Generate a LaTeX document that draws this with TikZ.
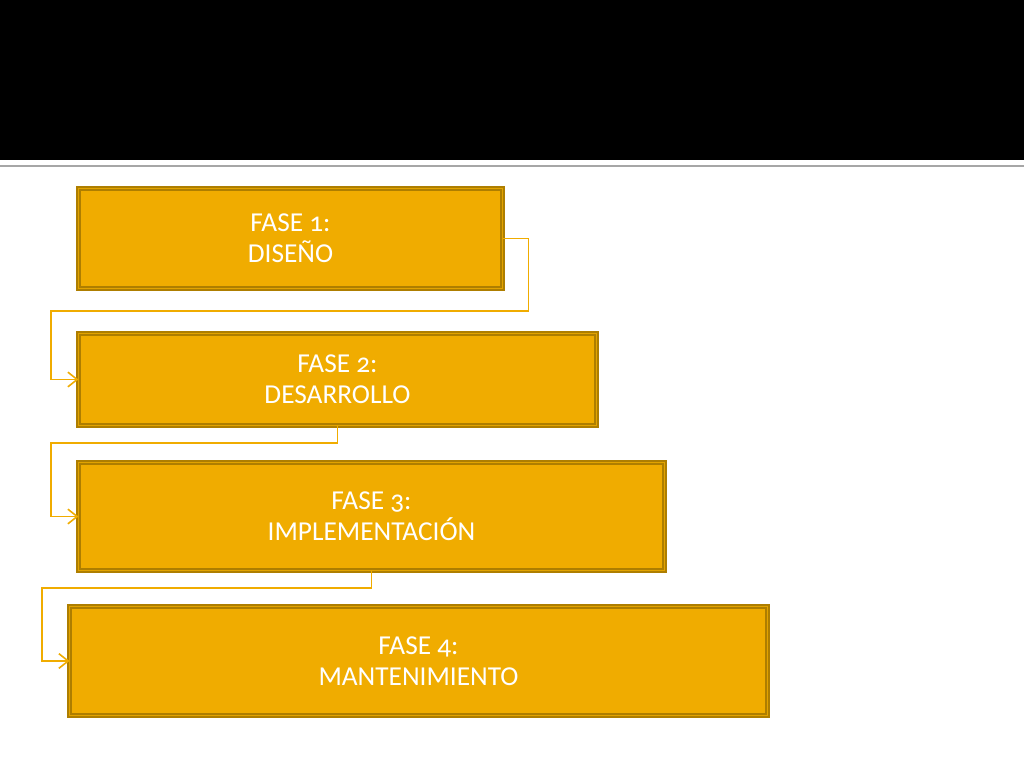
\documentclass[tikz,border=0pt]{standalone}
\usepackage{fontspec}
\setmainfont[Numbers=OldStyle]{Carlito}
\usetikzlibrary{arrows.meta}
\definecolor{fasefill}{HTML}{F0AC00}
\definecolor{faseline}{HTML}{AE7E00}
\definecolor{faselight}{HTML}{E2A300}

\begin{document}
\begin{tikzpicture}[x=0.75pt,y=-0.75pt,
  fase/.style={draw=faseline, fill=fasefill, line width=1.5pt, double=faselight, double distance=0.75pt,
    rectangle, inner sep=0pt, outer sep=0pt, text=white, align=center,
    font=\fontsize{20.5pt}{23.25pt}\selectfont},
  conn/.style={draw=fasefill, line width=1.2pt, -{Straight Barb[length=7pt,width=11pt]}}]
  \useasboundingbox (0,0) rectangle (1024,768);
  \fill[black] (0,0) rectangle (1024,160);
  \draw[black!35, line width=1.5pt] (0,165.5) -- (1024,165.5);

  \node (f1) [fase, minimum width=318pt, minimum height=75pt] at (290.5,238.5) {FASE 1:\\DISEÑO};
  \node (f2) [fase, minimum width=388.5pt, minimum height=69pt] at (337.5,379.5) {FASE 2:\\DESARROLLO};
  \node (f3) [fase, minimum width=439.5pt, minimum height=81pt] at (371.5,516.5) {FASE 3:\\IMPLEMENTACIÓN};
  \node (f4) [fase, minimum width=523.5pt, minimum height=81.75pt] at (418.5,661) {FASE 4:\\MANTENIMIENTO};

  \coordinate (k1) at (51,311);
  \coordinate (k2) at (51,443);
  \coordinate (k3) at (42,588);
  \draw[conn] (f1.east) -- ++(26,0) |- (k1) |- (f2.west);
  \draw[conn] (f2.south) |- (k2) |- (f3.west);
  \draw[conn] (f3.south) |- (k3) |- (f4.west);
\end{tikzpicture}
\end{document}
